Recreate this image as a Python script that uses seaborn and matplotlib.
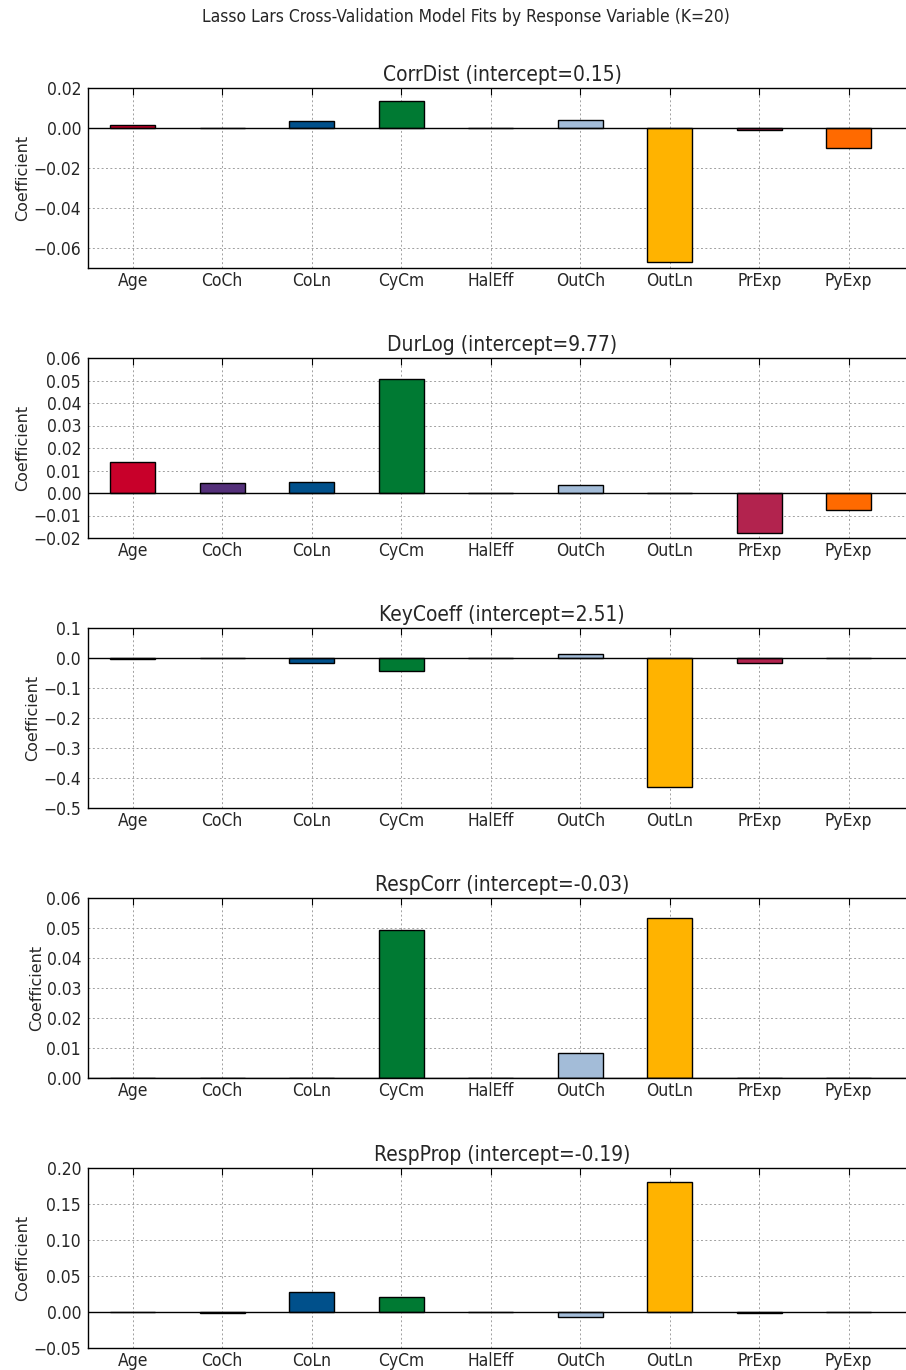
import matplotlib
matplotlib.use("Agg")
import matplotlib.pyplot as plt
import seaborn as sns
import pandas as pd
import numpy as np

predictors = ["Age", "CoCh", "CoLn", "CyCm", "HalEff", "OutCh", "OutLn", "PrExp", "PyExp"]
bar_colors = ["#c8002a", "#54307a", "#00508b", "#007a33", "#8c8c8c",
              "#a3bcd8", "#ffb300", "#b2234e", "#ff6a00"]

responses = ["CorrDist", "DurLog", "KeyCoeff", "RespCorr", "RespProp"]
intercepts = [0.15, 9.77, 2.51, -0.03, -0.19]

corrdist = [0.0015, 0.0, 0.0035, 0.0135, 0.0, 0.004, -0.067, -0.001, -0.0098]
durlog = [0.0138, 0.0046, 0.0051, 0.0508, 0.0, 0.0036, 0.0, -0.0179, -0.0075]
keycoeff = [-0.004, 0.0, -0.018, -0.044, 0.0, 0.015, -0.431, -0.018, 0.0]
respcorr = [0.0, 0.0, 0.0, 0.0494, 0.0, 0.0082, 0.0534, 0.0, 0.0]
respprop = [0.0, -0.002, 0.0275, 0.0205, 0.0, -0.007, 0.181, -0.002, 0.0]

values = [corrdist, durlog, keycoeff, respcorr, respprop]
ylims = [(-0.07, 0.02), (-0.02, 0.06), (-0.5, 0.1), (0.0, 0.06), (-0.05, 0.20)]
yticks = [[-0.06, -0.04, -0.02, 0.0, 0.02],
          [-0.02, -0.01, 0.0, 0.01, 0.02, 0.03, 0.04, 0.05, 0.06],
          [-0.5, -0.4, -0.3, -0.2, -0.1, 0.0, 0.1],
          [0.0, 0.01, 0.02, 0.03, 0.04, 0.05, 0.06],
          [-0.05, 0.0, 0.05, 0.10, 0.15, 0.20]]
ytick_fmt = ["{:.2f}", "{:.2f}", "{:.1f}", "{:.2f}", "{:.2f}"]

sns.set_style("white")
plt.rcParams["font.family"] = ["DejaVu Sans"]
plt.rcParams["font.stretch"] = "condensed"

W, H = 906, 1370
fig = plt.figure(figsize=(W / 100, H / 100), dpi=100)

tops = [88, 358, 628, 898, 1168]
ax_h = 180
left_px = 88
right_px = 916
unit_px = 89.5

for i, resp in enumerate(responses):
    top = tops[i]
    ax = fig.add_axes([left_px / W, 1 - (top + ax_h) / H,
                       (right_px - left_px) / W, ax_h / H])
    df = pd.DataFrame({"Predictor": predictors, "Coefficient": values[i]})
    sns.barplot(data=df, x="Predictor", y="Coefficient", hue="Predictor",
                palette=bar_colors, order=predictors, hue_order=predictors,
                width=0.5, edgecolor="black", linewidth=1.0, saturation=1,
                legend=False, ax=ax, zorder=2)
    ax.axhline(0, color="black", linewidth=1.0, zorder=3)
    ax.set_xlim(-0.5, -0.5 + (right_px - left_px) / unit_px)
    ax.set_ylim(*ylims[i])
    ax.set_yticks(yticks[i])
    ax.set_yticklabels([ytick_fmt[i].format(v).replace("-", "\u2212") for v in yticks[i]])
    ax.set_xlabel("")
    ax.set_ylabel("Coefficient", fontsize=11.5, fontstretch="normal", labelpad=2)
    ax.set_title(f"{resp} (intercept={intercepts[i]:.2f})", fontsize=15, pad=5)
    ax.grid(True, color="#a0a0a0", linestyle=(0, (2, 2.5)), linewidth=0.7, zorder=0)
    ax.set_axisbelow(True)
    for sp in ax.spines.values():
        sp.set_visible(True)
        sp.set_color("black")
        sp.set_linewidth(1.0)
    ax.tick_params(axis="both", direction="in", length=5, width=0.8,
                   top=True, right=True, labelsize=12.5, color="black")
    ax.tick_params(axis="x", pad=3)
    ax.tick_params(axis="y", pad=5)

fig.suptitle("Lasso Lars Cross-Validation Model Fits by Response Variable (K=20)",
             fontsize=12.5, x=466 / W, y=1 - 17 / H, va="center")

fig.savefig("out.png", dpi=100)
